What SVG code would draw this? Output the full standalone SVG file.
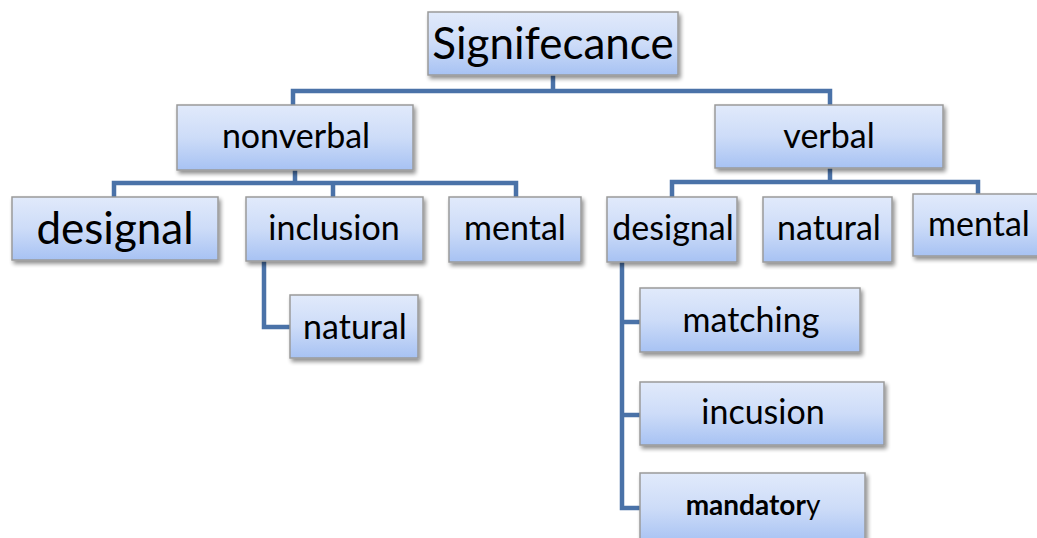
<svg xmlns="http://www.w3.org/2000/svg" width="1037" height="538" viewBox="0 0 1037 538">
<defs>
<linearGradient id="g" x1="0" y1="0" x2="0" y2="1">
<stop offset="0" stop-color="#e1eafb"/>
<stop offset="0.5" stop-color="#cddcf8"/>
<stop offset="1" stop-color="#a7c2f3"/>
</linearGradient>
<filter id="sh" x="-10%" y="-10%" width="130%" height="140%">
<feGaussianBlur in="SourceAlpha" stdDeviation="2"/>
<feOffset dx="2" dy="3" result="b"/>
<feComponentTransfer><feFuncA type="linear" slope="0.45"/></feComponentTransfer>
<feMerge><feMergeNode/><feMergeNode in="SourceGraphic"/></feMerge>
</filter>
</defs>
<style>
.box{fill:url(#g);stroke:#9a9a9a;stroke-width:1.5;filter:url(#sh)}
.t{font-family:Lato,"Liberation Sans",sans-serif;font-size:34px;fill:#000;text-anchor:middle}
.big{font-size:44px}
.c{fill:none;stroke:#4a72a8;stroke-width:4.5;stroke-linejoin:miter}
</style>
<g id="connectors">
<path class="c" d="M553,75 V91 M293,105 V91 H830 V105"/>
<path class="c" d="M295,170 V183 M114,197 V183 H516 V197 M333,183 V197"/>
<path class="c" d="M830,168 V182 M672,197 V182 H978 V194"/>
<path class="c" d="M264,261 V327 H290"/>
<path class="c" d="M622,262 V508 H640 M622,322 H640 M622,415 H640"/>
</g>
<g id="n-signifecance"><rect class="box" x="428" y="12" width="250" height="63"/><text class="t big" x="553" y="59">Signifecance</text></g>
<g id="n-nonverbal"><rect class="box" x="177" y="105" width="236" height="65"/><text class="t" x="296" y="148">nonverbal</text></g>
<g id="n-verbal"><rect class="box" x="715" y="105" width="228" height="63"/><text class="t" x="829" y="148">verbal</text></g>
<g id="n-designal-1"><rect class="box" x="12" y="197" width="206" height="63"/><text class="t big" x="115" y="244">designal</text></g>
<g id="n-inclusion-1"><rect class="box" x="246" y="197" width="177" height="64"/><text class="t" x="334" y="240">inclusion</text></g>
<g id="n-mental-1"><rect class="box" x="449" y="197" width="132" height="65"/><text class="t" x="515" y="240">mental</text></g>
<g id="n-natural-1"><rect class="box" x="290" y="295" width="128" height="63"/><text class="t" x="355" y="339">natural</text></g>
<g id="n-designal-2"><rect class="box" x="607" y="197" width="130" height="65"/><text class="t" x="673" y="240">designal</text></g>
<g id="n-natural-2"><rect class="box" x="763" y="197" width="129" height="65"/><text class="t" x="829" y="240">natural</text></g>
<g id="n-mental-2"><rect class="box" x="913" y="194" width="130" height="62"/><text class="t" x="979" y="236">mental</text></g>
<g id="n-matching"><rect class="box" x="640" y="288" width="220" height="64"/><text class="t" x="751" y="332">matching</text></g>
<g id="n-incusion"><rect class="box" x="640" y="382" width="244" height="63"/><text class="t" x="763" y="424">incusion</text></g>
<g id="n-mandatory"><rect class="box" x="640" y="473" width="225" height="70"/><text class="t" x="753" y="515" style="font-size:28px"><tspan font-weight="bold">mandator</tspan>y</text></g>
</svg>
